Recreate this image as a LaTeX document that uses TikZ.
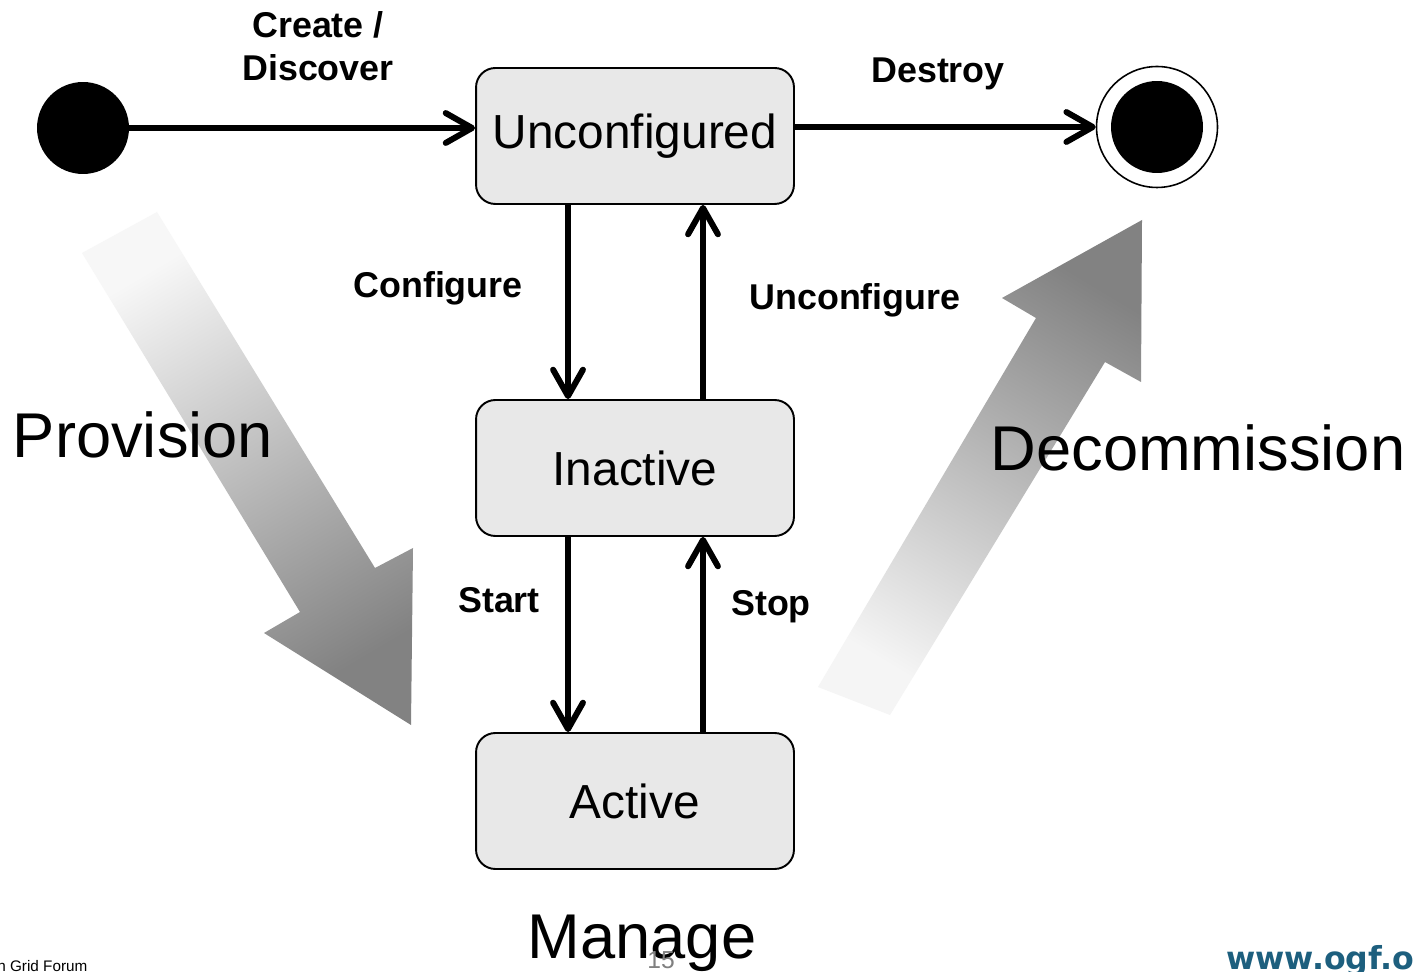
\documentclass[tikz,border=0pt]{standalone}
\usepackage{fontspec}
\setmainfont{Liberation Sans}
\newfontfamily\webfont{DejaVu Sans}
\usetikzlibrary{arrows.meta}

\definecolor{statefill}{HTML}{E8E8E8}
\definecolor{weblink}{HTML}{1D5F7E}
\definecolor{pagegray}{HTML}{808080}
\definecolor{phasedark}{HTML}{828282}

\begin{document}
\begin{tikzpicture}[x=0.02cm, y=-0.02cm,
  state/.style={draw, line width=1.1pt, fill=statefill, rounded corners=11pt,
    minimum width=6.36cm, minimum height=2.72cm, inner sep=0pt,
    font=\fontsize{27.2}{32}\selectfont},
  trans/.style={line width=3.4pt,
    -{Straight Barb[length=15pt, width=17pt, round]}},
  lbl/.style={font=\bfseries\fontsize{20.4}{24.4}\selectfont, align=center, inner sep=0pt},
  phase/.style={font=\fontsize{36}{40}\selectfont, inner sep=0pt},
]
% page
\fill[white] (0,0) rectangle (1416,972);
\useasboundingbox (0,0) rectangle (1416,972);

% phase arrows (shaded)
\shade[bottom color=white!97!black, top color=phasedark, shading angle=-149.4]
  (82,253) -- (157,212) -- (375,568) -- (413,548) -- (411,725) -- (264,633) -- (300,612) -- cycle;
\shade[bottom color=white!96!black, top color=phasedark, shading angle=-31]
  (818,687) -- (1036,318) -- (1002,298) -- (1142,220) -- (1141,382) -- (1105,362) -- (890,715) -- cycle;

% phase labels
\node[phase, anchor=base] (provision) at (143,458) {Provision};
\node[phase, anchor=base] (decommission) at (1198,471) {Decommission};
\node[phase, anchor=base] (manage) at (642,958) {Manage};

% states
\node[state] (unconf) at (635,136) {Unconfigured};
\node[state] (inact) at (635,468) {Inactive};
\node[state] (active) at (635,801) {Active};

% pseudo states
\node[circle, fill=black, minimum size=1.84cm, inner sep=0pt] (init) at (83,128) {};
\node[circle, draw, line width=0.9pt, minimum size=2.42cm, inner sep=0pt] (final) at (1157,127) {};
\node[circle, fill=black, minimum size=1.84cm, inner sep=0pt] (finalcore) at (1157,127) {};

% transitions
\draw[trans] (init.east) -- (init -| unconf.west);
\draw[trans] (unconf.east |- final) -- (final.west);
\draw[trans] ([xshift=-1.34cm]unconf.south) -- ([xshift=-1.34cm]inact.north);
\draw[trans] ([xshift=1.36cm]inact.north) -- ([xshift=1.36cm]unconf.south);
\draw[trans] ([xshift=-1.34cm]inact.south) -- ([xshift=-1.34cm]active.north);
\draw[trans] ([xshift=1.36cm]active.north) -- ([xshift=1.36cm]inact.south);

% transition labels
\node[lbl, anchor=north] (lcreate) at (318,11) {Create /\\Discover};
\node[lbl, anchor=base] (ldestroy) at (938,83) {Destroy};
\node[lbl, anchor=base] (lconfigure) at (438,298) {Configure};
\node[lbl, anchor=base] (lunconfigure) at (855,310) {Unconfigure};
\node[lbl, anchor=base] (lstart) at (499,613) {Start};
\node[lbl, anchor=base] (lstop) at (771,616) {Stop};

% footer
\node[anchor=base, inner sep=0pt, text=pagegray, font=\fontsize{14}{16}\selectfont] (pageno) at (661,968) {15};
\node[anchor=base west, inner sep=0pt, font=\fontsize{8.7}{10}\selectfont] (forum) at (-3,971) {n Grid Forum};
\node[anchor=base west, inner sep=0pt, text=weblink, font=\webfont\bfseries\fontsize{18}{20}\selectfont] (web) at (1226,969) {www.ogf.o};
\end{tikzpicture}
\end{document}
